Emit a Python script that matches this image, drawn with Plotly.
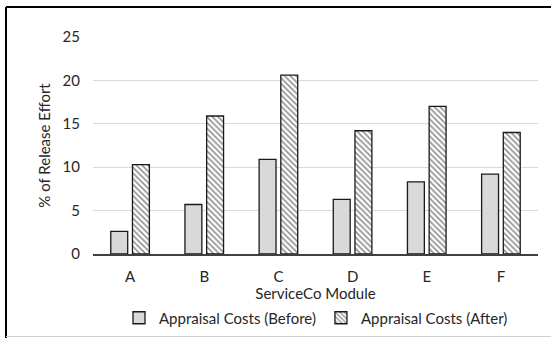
import plotly.graph_objects as go

modules = ["A", "B", "C", "D", "E", "F"]
before = [2.6, 5.7, 10.9, 6.3, 8.3, 9.2]
after = [10.3, 15.9, 20.6, 14.2, 17.0, 14.0]
y_ticks = [0, 5, 10, 15, 20, 25]

W, H = 551, 338
L, R, T, B = 93, 13, 37, 84
pw, ph = W - L - R, H - T - B


def px_x(px):
    return (px - L) / pw


def px_y(py):
    return (H - B - py) / ph


font = dict(family="Lato, 'Open Sans', sans-serif", size=15, color="#262626")

fig = go.Figure()
fig.add_trace(go.Bar(
    x=modules, y=before, name="Appraisal Costs (Before)",
    marker=dict(color="#d9d9d9", line=dict(color="#1a1a1a", width=1.3)),
))
fig.add_trace(go.Bar(
    x=modules, y=after, name="Appraisal Costs (After)",
    marker=dict(
        color="white",
        line=dict(color="#1a1a1a", width=1.3),
        pattern=dict(shape="\\", fgcolor="#222222", bgcolor="white",
                     size=4, solidity=0.4),
    ),
))

fig.update_layout(
    width=W, height=H,
    margin=dict(l=L, r=R, t=T, b=B, autoexpand=False),
    paper_bgcolor="white", plot_bgcolor="white",
    font=font,
    barmode="group", bargap=0.415, bargroupgap=0.22,
    showlegend=True,
    legend=dict(orientation="h", xref="container", yref="container",
                x=316 / W, xanchor="center", y=1 - 318 / H,
                yanchor="middle", font=font, itemwidth=30,
                traceorder="normal", bgcolor="rgba(0,0,0,0)"),
    xaxis=dict(
        title=dict(text="ServiceCo Module", font=font, standoff=7),
        automargin=False,
        showgrid=False, showline=True, linecolor="#404040", linewidth=1.5,
        ticks="", tickfont=font, ticklabelstandoff=8,
    ),
    yaxis=dict(
        title=dict(text="% of Release Effort", font=font, standoff=8),
        automargin=False,
        range=[0, 25], tickvals=y_ticks, showgrid=True,
        gridcolor="#d9d9d9", gridwidth=1, zeroline=False,
        showline=False, ticks="", tickfont=font, ticklabelstandoff=12,
    ),
    shapes=[
        # outer frame: black left and top edges, light bottom edge
        dict(type="line", xref="paper", yref="paper",
             x0=px_x(6), x1=px_x(6), y0=px_y(7), y1=px_y(338),
             line=dict(color="black", width=2)),
        dict(type="line", xref="paper", yref="paper",
             x0=px_x(6), x1=px_x(551), y0=px_y(7), y1=px_y(7),
             line=dict(color="black", width=2)),
        dict(type="line", xref="paper", yref="paper",
             x0=px_x(6), x1=px_x(551), y0=px_y(336.5), y1=px_y(336.5),
             line=dict(color="#d0d0d0", width=1)),
    ],
)

fig.write_html("out.html")
